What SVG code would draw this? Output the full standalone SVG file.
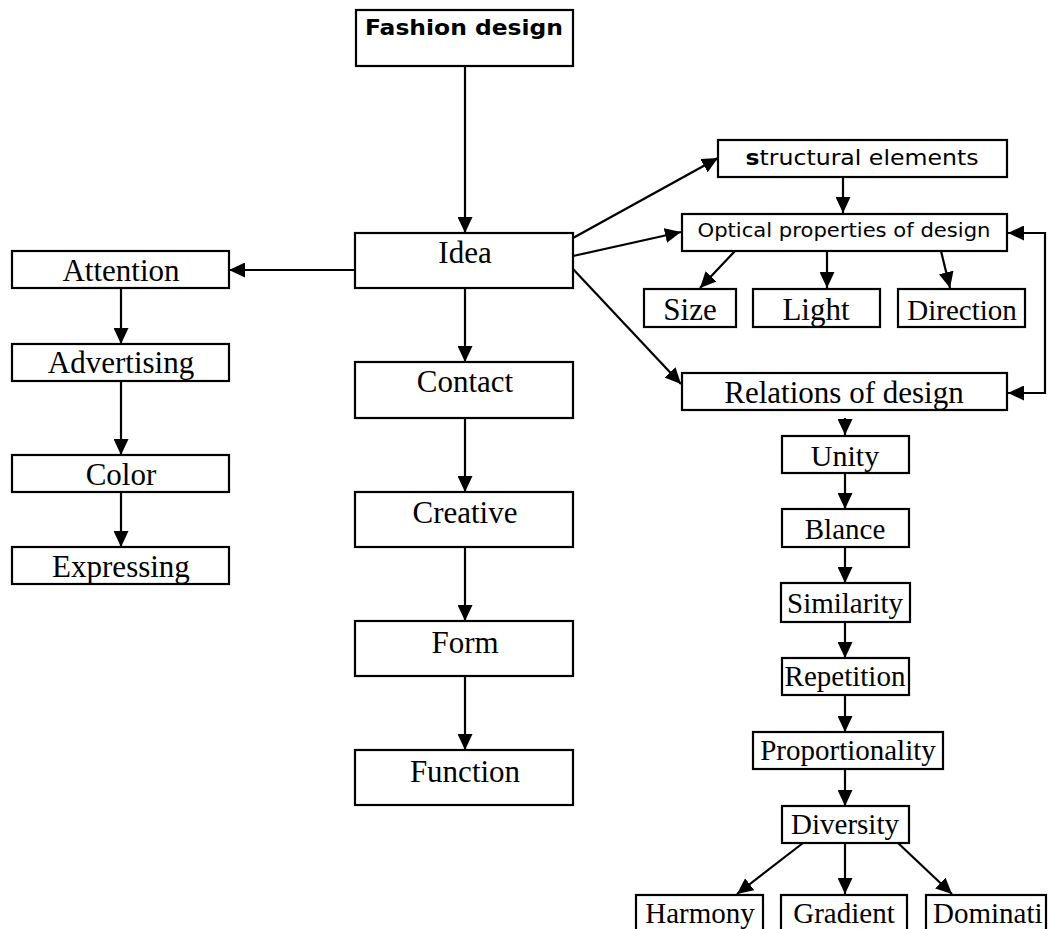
<svg xmlns="http://www.w3.org/2000/svg" width="1048" height="929" viewBox="0 0 1048 929">
<style>
rect{fill:#fff;stroke:#000;stroke-width:2.2}
.s{font-family:"Liberation Serif","Times New Roman",serif;font-size:31px;fill:#000;text-anchor:middle}
.m{font-size:29px}
.v{font-family:"DejaVu Sans",Verdana,sans-serif;fill:#000;text-anchor:middle}
#connectors line,#connectors polyline{stroke:#000;stroke-width:2.2;fill:none;marker-end:url(#ah)}
</style>
<defs>
<marker id="ah" markerUnits="userSpaceOnUse" markerWidth="16" markerHeight="15" refX="16" refY="7.5" orient="auto-start-reverse">
<path d="M0,0 L16,7.5 L0,15 z" fill="#000"/>
</marker>
</defs>
<rect width="1048" height="929" style="stroke:none"/>
<g id="connectors">
<line x1="465" y1="66" x2="465" y2="233"/>
<line x1="355" y1="270" x2="229" y2="270"/>
<line x1="121" y1="288" x2="121" y2="344"/>
<line x1="121" y1="381" x2="121" y2="455"/>
<line x1="121" y1="492" x2="121" y2="547"/>
<line x1="465" y1="288" x2="465" y2="362"/>
<line x1="465" y1="418" x2="465" y2="492"/>
<line x1="465" y1="547" x2="465" y2="621"/>
<line x1="465" y1="676" x2="465" y2="750"/>
<line x1="573" y1="238" x2="718" y2="158"/>
<line x1="573" y1="256" x2="681" y2="232"/>
<line x1="573" y1="269" x2="681" y2="384"/>
<line x1="843" y1="177" x2="843" y2="213"/>
<line x1="735" y1="251" x2="700" y2="288"/>
<line x1="827" y1="251" x2="827" y2="288"/>
<line x1="941" y1="251" x2="950" y2="288"/>
<polyline points="1008,393 1045,393 1045,233 1008,233" style="marker-start:url(#ah)"/>
<line x1="845" y1="418" x2="845" y2="435"/>
<line x1="845" y1="473" x2="845" y2="509"/>
<line x1="845" y1="547" x2="845" y2="583"/>
<line x1="845" y1="622" x2="845" y2="658"/>
<line x1="845" y1="695" x2="845" y2="732"/>
<line x1="845" y1="769" x2="845" y2="806"/>
<line x1="803" y1="843" x2="737" y2="894"/>
<line x1="845" y1="843" x2="845" y2="894"/>
<line x1="898" y1="843" x2="952" y2="894"/>
</g>
<g id="n-fashion"><rect x="356" y="10" width="217" height="56"/><text class="v" x="464" y="35" font-size="21" font-weight="bold" textLength="198" lengthAdjust="spacingAndGlyphs">Fashion design</text></g>
<g id="n-idea"><rect x="355" y="233" width="218" height="55"/><text class="s" x="465" y="263">Idea</text></g>
<g id="n-contact"><rect x="355" y="362" width="218" height="56"/><text class="s" x="465" y="392">Contact</text></g>
<g id="n-creative"><rect x="355" y="492" width="218" height="55"/><text class="s" x="465" y="523">Creative</text></g>
<g id="n-form"><rect x="355" y="621" width="218" height="55"/><text class="s" x="465" y="653">Form</text></g>
<g id="n-function"><rect x="355" y="750" width="218" height="55"/><text class="s" x="465" y="782">Function</text></g>
<g id="n-attention"><rect x="12" y="251" width="217" height="37"/><text class="s" x="121" y="281">Attention</text></g>
<g id="n-advertising"><rect x="12" y="344" width="217" height="37"/><text class="s" x="121" y="373">Advertising</text></g>
<g id="n-color"><rect x="12" y="455" width="217" height="37"/><text class="s" x="121" y="485">Color</text></g>
<g id="n-expressing"><rect x="12" y="547" width="217" height="37"/><text class="s" x="121" y="577">Expressing</text></g>
<g id="n-structural"><rect x="718" y="140" width="289" height="37"/><text class="v" x="862" y="165" font-size="21" textLength="233" lengthAdjust="spacingAndGlyphs"><tspan font-weight="bold">s</tspan>tructural elements</text></g>
<g id="n-optical"><rect x="682" y="214" width="325" height="37"/><text class="v" x="844" y="237" font-size="20" textLength="293" lengthAdjust="spacingAndGlyphs">Optical properties of design</text></g>
<g id="n-size"><rect x="644" y="289" width="92" height="38"/><text class="s" x="690" y="320">Size</text></g>
<g id="n-light"><rect x="753" y="289" width="127" height="38"/><text class="s" x="816" y="320">Light</text></g>
<g id="n-direction"><rect x="898" y="289" width="127" height="38"/><text class="s m" x="962" y="320">Direction</text></g>
<g id="n-relations"><rect x="682" y="373" width="325" height="37"/><text class="s" x="844" y="403">Relations of design</text></g>
<g id="n-unity"><rect x="782" y="436" width="127" height="37"/><text class="s" x="845" y="466" style="font-size:30px">Unity</text></g>
<g id="n-blance"><rect x="782" y="509" width="127" height="38"/><text class="s m" x="845" y="539">Blance</text></g>
<g id="n-similarity"><rect x="781" y="583" width="129" height="39"/><text class="s m" x="845" y="613">Similarity</text></g>
<g id="n-repetition"><rect x="782" y="658" width="127" height="37"/><text class="s m" x="845" y="686">Repetition</text></g>
<g id="n-proportionality"><rect x="753" y="732" width="190" height="37"/><text class="s m" x="848" y="760">Proportionality</text></g>
<g id="n-diversity"><rect x="782" y="806" width="127" height="37"/><text class="s m" x="845" y="834">Diversity</text></g>
<g id="n-harmony"><rect x="636" y="895" width="127" height="45"/><text class="s m" x="700" y="923">Harmony</text></g>
<g id="n-gradient"><rect x="781" y="895" width="126" height="45"/><text class="s m" x="844" y="923">Gradient</text></g>
<g id="n-dominati"><rect x="926" y="895" width="120" height="45"/><text class="s m" x="933" y="923" style="text-anchor:start">Dominati</text></g>
</svg>
